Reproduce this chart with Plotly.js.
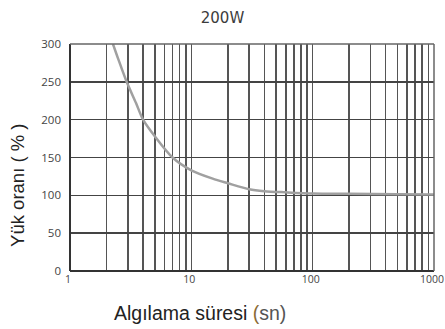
<!DOCTYPE html>
<html>
<head>
<meta charset="utf-8">
<script src="https://cdn.plot.ly/plotly-3.0.1.min.js"></script>
<style>
  html, body { margin: 0; padding: 0; background: #fff; }
  #chart { width: 445px; height: 329px; }
</style>
</head>
<body>
<div id="chart"></div>
<script>
// Overload curve: detection time (s) vs. load ratio (%)
const timeSec = [2.26, 2.5, 2.93, 3.5, 4, 5, 7, 10, 15, 20, 30, 40, 60, 100, 200, 500, 1000];
const loadPct = [300, 280, 250, 222, 200, 178, 150, 133, 122, 116, 108, 105.5, 104, 102.5, 102, 101.5, 101];

// Log-scale grid: every 1..9 multiple of each decade, labels only on decades
const decades = [1, 10, 100];
const gridVals = [];
decades.forEach(d => { for (let k = 1; k <= 9; k++) gridVals.push(k * d); });
gridVals.push(1000);
const gridText = gridVals.map(v => ([1, 10, 100, 1000].includes(v) ? String(v) : ''));

const yTicks = [0, 50, 100, 150, 200, 250, 300];

const xTitle = 'Algılama süresi <span style="color:#8a6a35">(</span><span style="color:#555">sn)</span>';
const yTitle = 'Yük oranı ( % )';

const trace = {
  x: timeSec,
  y: loadPct,
  type: 'scatter',
  mode: 'lines',
  line: { color: '#a0a0a0', width: 2.5, shape: 'spline', smoothing: 0.8 },
  hoverinfo: 'skip'
};

const layout = {
  width: 445,
  height: 329,
  margin: { l: 70, r: 11, t: 44, b: 58 },
  paper_bgcolor: '#fff',
  plot_bgcolor: '#fff',
  showlegend: false,
  title: {
    text: '200W',
    x: 0.5, xanchor: 'center',
    y: 0.945, yanchor: 'middle',
    font: { family: 'DejaVu Sans', size: 15, color: '#3c3c3c' }
  },
  xaxis: {
    type: 'log',
    range: [0, 3],
    tickmode: 'array',
    tickvals: gridVals,
    ticktext: gridText,
    ticks: '',
    ticklabelshift: -2,
    showgrid: true,
    gridcolor: '#555',
    gridwidth: 1.5,
    zeroline: false,
    showline: false,
    tickfont: { family: 'Open Sans', size: 10.5, color: '#444' }
  },
  yaxis: {
    range: [0, 300],
    tickmode: 'array',
    tickvals: yTicks,
    ticks: '',
    ticklabelstandoff: 8,
    showgrid: true,
    gridcolor: '#444',
    gridwidth: 1.5,
    zeroline: false,
    showline: false,
    tickfont: { family: 'Open Sans', size: 11.5, color: '#444' }
  },
  annotations: [
    // axis titles sit off-centre, so they are placed as annotations
    {
      text: xTitle, xref: 'paper', yref: 'paper',
      x: 0.357, y: -0.185, xanchor: 'center', yanchor: 'middle',
      showarrow: false,
      font: { family: 'Liberation Sans', size: 19.5, color: '#222' }
    },
    {
      text: yTitle, xref: 'paper', yref: 'paper',
      x: -0.143, y: 0.379, xanchor: 'center', yanchor: 'middle',
      textangle: -90, showarrow: false,
      font: { family: 'Liberation Sans', size: 18.5, color: '#222' }
    }
  ],
  shapes: [
    // left and bottom axis lines are darker than the top/right frame
    { type: 'line', xref: 'paper', yref: 'paper', x0: 0, x1: 0, y0: 0, y1: 1, line: { color: '#333', width: 2 } },
    { type: 'line', xref: 'paper', yref: 'paper', x0: 0, x1: 1, y0: 0, y1: 0, line: { color: '#333', width: 2 } },
    { type: 'line', xref: 'paper', yref: 'paper', x0: 0, x1: 1, y0: 1, y1: 1, line: { color: '#666', width: 1.5 } },
    { type: 'line', xref: 'paper', yref: 'paper', x0: 1, x1: 1, y0: 0, y1: 1, line: { color: '#666', width: 1.5 } }
  ]
};

Plotly.newPlot('chart', [trace], layout, { displayModeBar: false, staticPlot: true });
</script>
</body>
</html>
